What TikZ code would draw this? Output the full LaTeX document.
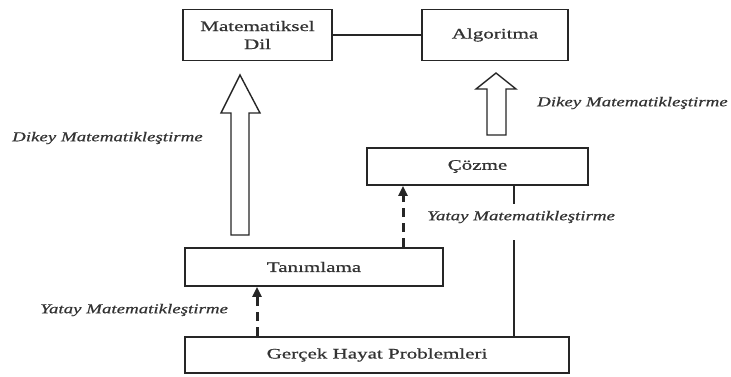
\documentclass[tikz,border=0pt]{standalone}
\usepackage{fontspec}
\setmainfont{Liberation Serif}
\newfontfamily\boxfont[FakeStretch=1.45,FakeBold=0.8]{Liberation Serif}
\newfontfamily\labelfont[FakeStretch=1.4,FakeBold=0.6]{Liberation Serif}
\usetikzlibrary{arrows.meta,calc}

\begin{document}
\begin{tikzpicture}[x=1pt,y=-1pt,
  box/.style={draw=black!85, line width=1.9pt, fill=white, inner sep=0pt,
    align=center, text=black!80,
    font=\boxfont\fontsize{14.5}{18}\selectfont},
  hollow/.style={draw=black!85, line width=1.4pt, fill=white, line join=miter},
  dasharrow/.style={draw=black!85, line width=3pt, dash pattern=on 9pt off 6pt,
    -{Triangle[length=10pt,width=9pt]}},
  plain/.style={draw=black!85, line width=2.2pt},
  lab/.style={font=\labelfont\itshape\fontsize{13.5}{16}\selectfont,
    text=black!80, inner sep=0pt}]
\useasboundingbox (0,0) rectangle (731,376);

% boxes
\node[box, minimum width=149pt, minimum height=51pt] (mat) at (257.5,35)
  {Matematiksel\\Dil};
\node[box, minimum width=146pt, minimum height=51pt] (alg) at (495,35)
  {\raisebox{-7pt}{Algoritma}};
\node[box, minimum width=221pt, minimum height=37pt] (coz) at (477.5,166.5)
  {\raisebox{2pt}{Çözme}};
\node[box, minimum width=258pt, minimum height=38pt] (tan) at (314,267)
  {Tanımlama};
\node[box, minimum width=384pt, minimum height=36pt] (ger) at (377,355)
  {Gerçek Hayat Problemleri};

% link between the two upper boxes
\draw[plain] (mat.east) -- (alg.west);

% hollow block arrows (vertical mathematisation)
\draw[hollow] (231,235) -- (231,113) -- (221,113) -- (240,75) -- (260,113)
  -- (249,113) -- (249,235) -- cycle;
\draw[hollow] (487,135) -- (487,89) -- (476,89) -- (496,73) -- (516,89)
  -- (506,89) -- (506,135) -- cycle;

% dashed arrows (horizontal mathematisation)
\coordinate (d1) at (257,0);
\coordinate (d2) at (403,0);
\draw[dasharrow] (d1 |- ger.north) -- (d1 |- tan.south);
\draw[dasharrow] (d2 |- tan.north) -- (d2 |- coz.south);

% solid line from Çözme down to the real-life problems, broken by its label
\coordinate (s) at (514,0);
\coordinate (gapTop) at (514,204);
\coordinate (gapBot) at (514,240);
\draw[plain] (s |- coz.south) -- (gapTop);
\draw[plain] (gapBot) -- (s |- ger.north);

% labels
\node[lab, anchor=west] (l1) at (12,138) {Dikey Matematikleştirme};
\node[lab, anchor=west] (l2) at (537,103) {Dikey Matematikleştirme};
\node[lab, anchor=west] (l3) at (427,217) {Yatay Matematikleştirme};
\node[lab, anchor=west] (l4) at (40,310) {Yatay Matematikleştirme};
\end{tikzpicture}
\end{document}
